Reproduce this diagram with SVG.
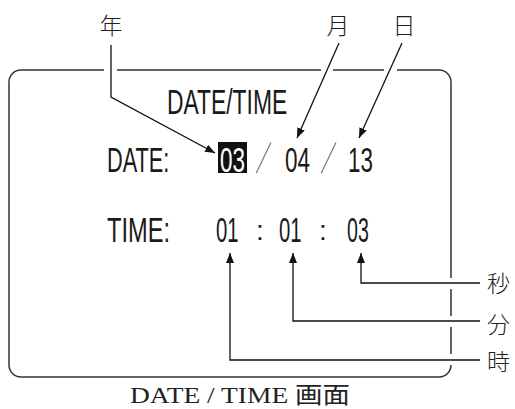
<svg xmlns="http://www.w3.org/2000/svg" width="515" height="409" viewBox="0 0 515 409">
<style>
.frame{fill:none;stroke:#333;stroke-width:1.5}
.conn{fill:none;stroke:#111;stroke-width:1.3}
.lcd{font-family:"Liberation Sans","DejaVu Sans",sans-serif;font-size:35px;fill:#1a1a1a}
.cjk{font-family:"Noto Sans CJK JP",sans-serif;font-size:23px;font-weight:300;fill:#222}
.cap{font-family:"Liberation Serif","Noto Sans CJK JP",serif;font-size:23px;fill:#222}
.sl{font-family:"Noto Sans CJK JP",sans-serif;font-weight:100;font-size:30px;fill:#444}
</style>
<defs>
<marker id="ah" viewBox="0 0 10 8" refX="10" refY="4" markerWidth="10" markerHeight="8" markerUnits="userSpaceOnUse" orient="auto">
<path d="M0,0 L10,4 L0,8 Z" fill="#111"/>
</marker>
</defs>
<rect width="515" height="409" fill="#fff"/>
<g id="screen">
<path class="frame" d="M117,70 H321 M333,70 H384 M397,70 H439 A12,12 0 0 1 451,82 V278 M451,289 V316 M451,327 V354 M451,365 A12,12 0 0 1 439,377 H21 A12,12 0 0 1 9,365 V82 A12,12 0 0 1 21,70 H104"/>
<text class="lcd" transform="translate(167,114) scale(0.653,1)">DATE/TIME</text>
</g>
<g id="date-row">
<text class="lcd" transform="translate(107,172) scale(0.621,1)">DATE:</text>
<rect x="218" y="142" width="29" height="31" fill="#111"/>
<text class="lcd" transform="translate(220,172) scale(0.643,1)" style="fill:#fff">03</text>
<text class="sl" transform="translate(263.5,171) scale(0.55,1.15)" text-anchor="middle">／</text>
<text class="lcd" transform="translate(285,172) scale(0.643,1)">04</text>
<text class="sl" transform="translate(328.5,171) scale(0.55,1.15)" text-anchor="middle">／</text>
<text class="lcd" transform="translate(348,172) scale(0.64,1)">13</text>
</g>
<g id="time-row">
<text class="lcd" transform="translate(107,242) scale(0.675,1)">TIME:</text>
<text class="lcd" transform="translate(216,242) scale(0.58,1)">01</text>
<text class="lcd" x="260" y="240" text-anchor="middle" style="font-size:28px">:</text>
<text class="lcd" transform="translate(279,242) scale(0.58,1)">01</text>
<text class="lcd" x="323" y="240" text-anchor="middle" style="font-size:28px">:</text>
<text class="lcd" transform="translate(347,242) scale(0.56,1)">03</text>
</g>
<g id="label-year"><text class="cjk" x="111" y="34" text-anchor="middle">年</text></g>
<g id="label-month"><text class="cjk" x="338" y="34" text-anchor="middle">月</text></g>
<g id="label-day"><text class="cjk" x="404" y="34" text-anchor="middle">日</text></g>
<g id="label-sec"><text class="cjk" x="487" y="292">秒</text></g>
<g id="label-min"><text class="cjk" x="487" y="333">分</text></g>
<g id="label-hour"><text class="cjk" x="487" y="370">時</text></g>
<g id="caption"><text class="cap" x="130" y="403" textLength="220" lengthAdjust="spacingAndGlyphs">DATE / TIME 画面</text></g>
<g id="connectors">
<path class="conn" d="M111,45 V97 L215,153" marker-end="url(#ah)"/>
<path class="conn" d="M339,43 L297,138" marker-end="url(#ah)"/>
<path class="conn" d="M402,43 L359,138" marker-end="url(#ah)"/>
<path class="conn" d="M480,283 H361 V253" marker-end="url(#ah)"/>
<path class="conn" d="M480,321 H293 V253" marker-end="url(#ah)"/>
<path class="conn" d="M480,360 H230 V253" marker-end="url(#ah)"/>
</g>
</svg>
